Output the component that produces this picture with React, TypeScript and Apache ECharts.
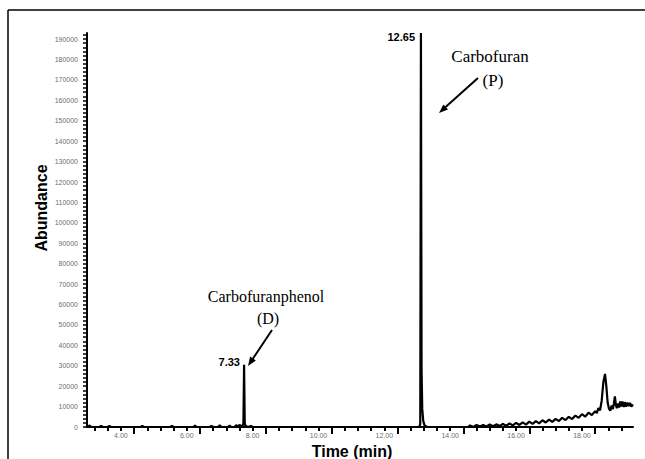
import React, { useEffect, useRef } from "react";
import * as echarts from "echarts";

// ---- data ----
const timeMin: number[] = [
  2.97, 3.05, 3.1, 3.35, 3.4, 3.45, 3.6, 3.65, 3.7, 4.6, 4.65, 4.7, 5.5, 5.55, 5.6,
  6.2, 6.25, 6.3, 6.7, 6.75, 6.8, 6.95, 7.0, 7.05, 7.25, 7.3, 7.35, 7.45, 7.5, 7.55,
  7.6, 7.65, 7.7, 7.72, 7.74, 7.76, 7.78, 7.85, 7.95, 8.0, 8.2,
  13.06, 13.09, 13.11, 13.13, 13.15, 13.18, 13.22, 13.3,
  14.55, 14.6, 14.7, 14.8, 14.9, 15.0, 15.1, 15.2, 15.3, 15.4, 15.5, 15.6, 15.7, 15.8, 15.9,
  16.0, 16.1, 16.2, 16.3, 16.4, 16.5, 16.6, 16.7, 16.8, 16.9, 17.0, 17.1, 17.2, 17.3, 17.4,
  17.5, 17.6, 17.7, 17.8, 17.9, 18.0, 18.1, 18.2, 18.3, 18.4, 18.45, 18.5, 18.55,
  18.6, 18.65, 18.7, 18.74, 18.78, 18.82, 18.86, 18.9, 18.94, 18.97, 19.0, 19.03, 19.06,
  19.1, 19.13, 19.16, 19.2, 19.23, 19.27, 19.3, 19.34, 19.38, 19.42, 19.46, 19.5, 19.55,
];
const abundance: number[] = [
  0, 700, 0, 0, 600, 0, 0, 500, 0, 0, 500, 0, 0, 600, 0,
  0, 700, 0, 0, 600, 0, 0, 800, 0, 0, 700, 0, 0, 900, 300,
  1000, 400, 800, 2000, 30500, 2000, 600, 0, 500, 0, 0,
  0, 1500, 193000, 28000, 9000, 3000, 800, 0,
  0, 800, 0, 1000, 200, 1000, 300, 1200, 400, 1300, 500, 1500, 600, 1700, 800,
  2000, 1000, 2300, 1200, 2600, 1500, 2900, 1800, 3300, 2200, 3600, 2500, 4000, 2900, 4500,
  3400, 5000, 3900, 5600, 4500, 6300, 5100, 7000, 5800, 7800, 6800, 9200, 8200,
  13000, 22000, 26000, 20000, 12000, 9000, 8000, 10500, 8800, 11500, 15000, 10800, 9200,
  11500, 9500, 12500, 10000, 12500, 9800, 12200, 10000, 12000, 10200, 11800, 10000, 11000,
];
const yTickLabels: number[] = [
  0, 10000, 20000, 30000, 40000, 50000, 60000, 70000, 80000, 90000, 100000,
  110000, 120000, 130000, 140000, 150000, 160000, 170000, 180000, 190000,
];
const xTickLabels: number[] = [4, 6, 8, 10, 12, 14, 16, 18];
const xLongTicks: number[] = [4.4, 6.4, 8.4, 10.4, 12.4, 14.4, 16.4, 18.4];
const peakLabels: string[] = ["7.33", "12.65"];

const X_MIN = 2.97;
const X_MAX = 19.55;
const Y_MAX = 193000;

function arrow(tail: [number, number], tip: [number, number]) {
  const dx = tip[0] - tail[0];
  const dy = tip[1] - tail[1];
  const len = Math.hypot(dx, dy);
  const ux = dx / len, uy = dy / len;
  const nx = -uy, ny = ux;
  const L = 9, W = 7;
  const bx = tip[0] - ux * L, by = tip[1] - uy * L;
  return [
    {
      type: "line",
      shape: { x1: tail[0], y1: tail[1], x2: bx + ux * 2, y2: by + uy * 2 },
      style: { stroke: "#000", lineWidth: 2 },
    },
    {
      type: "polygon",
      shape: {
        points: [
          [tip[0], tip[1]],
          [bx + nx * W / 2, by + ny * W / 2],
          [bx - nx * W / 2, by - ny * W / 2],
        ],
      },
      style: { fill: "#000" },
    },
  ];
}

export default function App() {
  const ref = useRef<HTMLDivElement>(null);
  useEffect(() => {
    if (!ref.current) return;
    const chart = echarts.init(ref.current, null, { renderer: "svg" });
    const yTicks: number[] = [];
    for (let v = 0; v <= 192000; v += 2000) yTicks.push(v);
    const xTicks: number[] = [];
    for (let k = 8; k * 0.4 <= X_MAX; k++) xTicks.push(Math.round(k * 0.4 * 100) / 100);

    const sans = "'Liberation Sans', Arial, sans-serif";
    const serif = "'Liberation Serif', 'Times New Roman', serif";

    chart.setOption({
      animation: false,
      backgroundColor: "#fff",
      grid: { left: 87, right: 12, top: 33, bottom: 32, containLabel: false },
      xAxis: [
        {
          type: "value",
          min: X_MIN,
          max: X_MAX,
          position: "bottom",
          axisLine: { show: true, onZero: false, lineStyle: { color: "#000", width: 2 } },
          axisTick: { show: true, length: 4, customValues: xTicks, lineStyle: { color: "#000", width: 2 } },
          axisLabel: {
            show: true,
            customValues: xTickLabels,
            formatter: (v: number) => v.toFixed(2),
            fontSize: 7,
            color: "#6e6e6e",
            fontFamily: sans,
            margin: 5,
          },
          splitLine: { show: false },
        },
        {
          type: "value",
          min: X_MIN,
          max: X_MAX,
          position: "bottom",
          axisLine: { show: false },
          axisTick: { show: true, length: 7, customValues: xLongTicks, lineStyle: { color: "#000", width: 2 } },
          axisLabel: { show: false },
          splitLine: { show: false },
        },
      ],
      yAxis: {
        type: "value",
        min: 0,
        max: Y_MAX,
        axisLine: { show: true, lineStyle: { color: "#000", width: 2 } },
        axisTick: { show: true, length: 4, customValues: yTicks, lineStyle: { color: "#000", width: 1.5 } },
        axisLabel: {
          show: true,
          customValues: yTickLabels,
          formatter: (v: number) => String(v),
          fontSize: 7,
          color: "#6e6e6e",
          fontFamily: sans,
          margin: 9,
        },
        splitLine: { show: false },
      },
      series: [
        {
          type: "line",
          xAxisIndex: 0,
          data: timeMin.map((t, i) => [t, abundance[i]]),
          showSymbol: false,
          symbol: "none",
          lineStyle: { color: "#000", width: 2.2 },
          clip: true,
          z: 1,
        },
      ],
      graphic: [
        { type: "line", shape: { x1: 8, y1: 10, x2: 645, y2: 10 }, style: { stroke: "#000", lineWidth: 1.5 } },
        { type: "line", shape: { x1: 8, y1: 10, x2: 8, y2: 459 }, style: { stroke: "#000", lineWidth: 1.5 } },
        {
          type: "text",
          x: 41,
          y: 208,
          rotation: Math.PI / 2,
          style: { text: "Abundance", fontSize: 16, fontWeight: "bold", fontFamily: sans, fill: "#000", align: "center", verticalAlign: "middle" },
        },
        {
          type: "text",
          x: 352,
          y: 451,
          style: { text: "Time (min)", fontSize: 16, fontWeight: "bold", fontFamily: sans, fill: "#000", align: "center", verticalAlign: "middle" },
        },
        {
          type: "text",
          x: 240,
          y: 362,
          style: { text: peakLabels[0], fontSize: 11, fontWeight: "bold", fontFamily: sans, fill: "#000", align: "right", verticalAlign: "middle" },
        },
        {
          type: "text",
          x: 415,
          y: 37,
          style: { text: peakLabels[1], fontSize: 11, fontWeight: "bold", fontFamily: sans, fill: "#000", align: "right", verticalAlign: "middle" },
        },
        {
          type: "text",
          x: 266,
          y: 296,
          style: { text: "Carbofuranphenol", fontSize: 16, fontFamily: serif, fill: "#000", align: "center", verticalAlign: "middle" },
        },
        {
          type: "text",
          x: 268,
          y: 318,
          style: { text: "(D)", fontSize: 16, fontFamily: serif, fill: "#000", align: "center", verticalAlign: "middle" },
        },
        {
          type: "text",
          x: 490,
          y: 56,
          style: { text: "Carbofuran", fontSize: 17, fontFamily: serif, fill: "#000", align: "center", verticalAlign: "middle" },
        },
        {
          type: "text",
          x: 493,
          y: 80,
          style: { text: "(P)", fontSize: 17, fontFamily: serif, fill: "#000", align: "center", verticalAlign: "middle" },
        },
        ...arrow([272, 330], [248, 366]),
        ...arrow([478, 78], [439, 113]),
      ],
    });
    return () => chart.dispose();
  }, []);
  return (
    <div
      ref={ref}
      style={{ position: "fixed", left: 0, top: 0, width: 645, height: 459 }}
    />
  );
}
